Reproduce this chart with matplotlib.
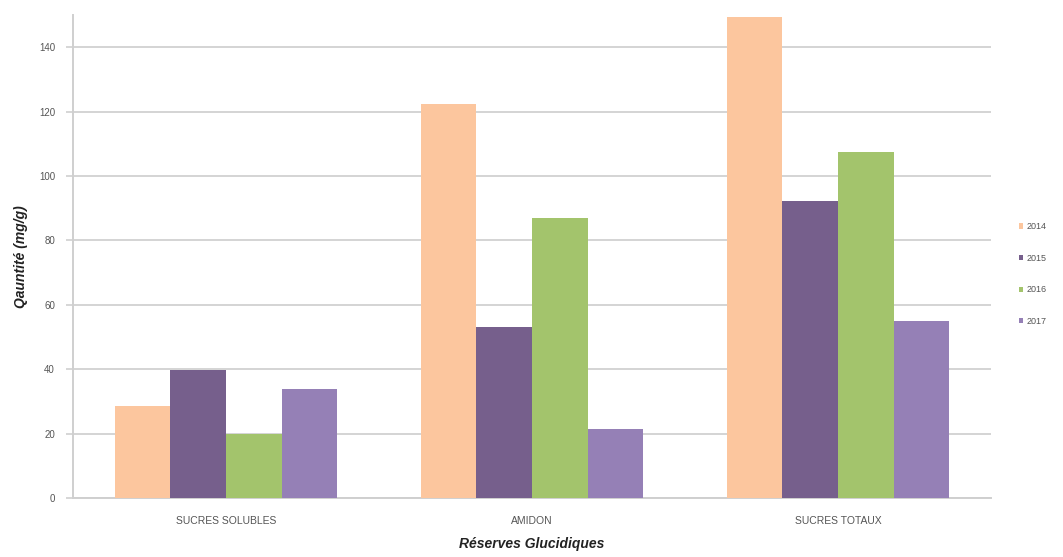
import matplotlib
matplotlib.use("Agg")
import matplotlib.pyplot as plt
import numpy as np

plt.rcParams['font.family'] = ['Liberation Sans Narrow', 'Liberation Sans', 'DejaVu Sans']

categories = ["SUCRES SOLUBLES", "AMIDON", "SUCRES TOTAUX"]
years = ["2014", "2015", "2016", "2017"]
values = {
    "2014": [28.5, 122.5, 149.3],
    "2015": [39.6, 53.0, 92.3],
    "2016": [20.0, 87.0, 107.5],
    "2017": [33.7, 21.4, 55.0],
}
colors = {
    "2014": "#FCC69E",
    "2015": "#765F8C",
    "2016": "#A3C46C",
    "2017": "#9580B6",
}
yticks = [0, 20, 40, 60, 80, 100, 120, 140]

fig = plt.figure(figsize=(10.63, 5.57), dpi=100)
ax = fig.add_axes([0.0687, 0.106, 0.8636, 0.867])

x = np.arange(len(categories))
bw = 0.1818
for i, yr in enumerate(years):
    ax.bar(x + (i - 1.5) * bw, values[yr], width=bw, color=colors[yr],
           label=yr, zorder=3, linewidth=0)

ax.set_xlim(-0.5, len(categories) - 0.5)
ax.set_ylim(0, 150)
ax.set_yticks(yticks)
ax.set_xticks(x)
ax.set_xticklabels(categories)
ax.grid(axis='y', color='#d4d4d4', linewidth=1.4, zorder=0)
for s in ['top', 'right']:
    ax.spines[s].set_visible(False)
for s in ['left', 'bottom']:
    ax.spines[s].set_color('#cfcfcf')
    ax.spines[s].set_linewidth(1.4)
ax.tick_params(axis='y', colors='#cfcfcf', length=5, width=1.2,
               labelsize=7, labelcolor='#555555', pad=8)
ax.tick_params(axis='x', length=0, labelsize=7.5, labelcolor='#555555', pad=13)

ax.set_ylabel("Qauntité (mg/g)", fontsize=10, fontweight='bold',
              fontstyle='italic', color='#222222', labelpad=8)
ax.set_xlabel("Réserves Glucidiques", fontsize=10, fontweight='bold',
              fontstyle='italic', color='#222222', labelpad=8)

leg = fig.legend(loc='center left', bbox_to_anchor=(0.955, 0.508),
                 frameon=False, fontsize=6.5, handlelength=0.5,
                 handleheight=0.5, handletextpad=0.4, labelspacing=2.5,
                 borderaxespad=0)
for t in leg.get_texts():
    t.set_color('#555555')

fig.savefig("out.png", dpi=100)
